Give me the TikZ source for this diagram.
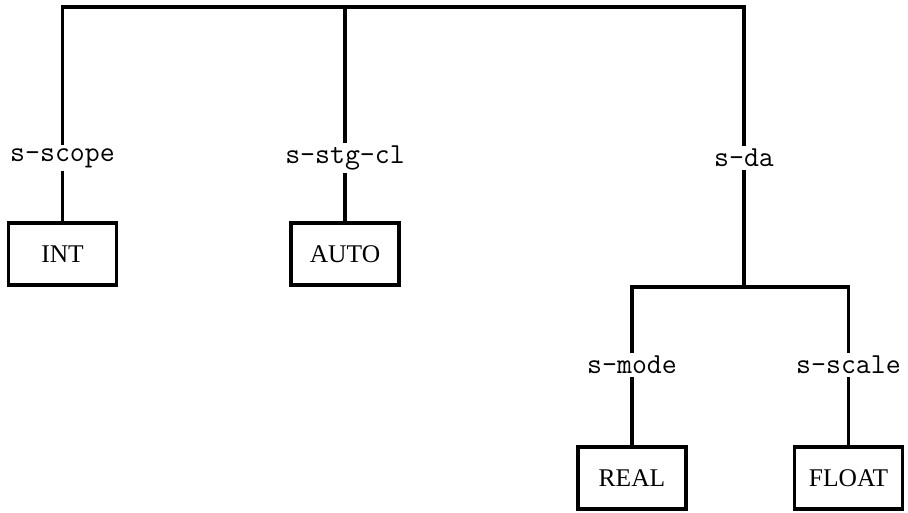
\documentclass[tikz,border=0pt]{standalone}
\usepackage{fontspec}
\newfontfamily\boxfont{Liberation Serif}
\usepackage{tikz}
\usetikzlibrary{positioning}

\tikzset{
  leafbox/.style={draw=black, line width=2pt, minimum width=2.16cm, minimum height=1.24cm, inner sep=0pt, font=\boxfont\fontsize{14.5}{16}\selectfont},
  sellabel/.style={inner sep=1.5pt, font=\fontsize{16.5}{18}\selectfont\ttfamily},
  branch/.style={line width=2pt}
}

\begin{document}
\begin{tikzpicture}
    \useasboundingbox (0,0) rectangle (18.16,10.24);
    % top row of the tree
    \coordinate (tleft) at (1.25,10.1);
    \coordinate (tright) at (14.88,10.1);
    \node[sellabel] (scope) at (1.25,7.08) {s-scope};
    \node[sellabel] (stgcl) at (6.9,7.08) {s-stg-cl};
    \node[sellabel] (da) at (14.88,7.08) {s-da};
    \node[leafbox] (int) at (1.25,5.16) {INT};
    \node[leafbox] (auto) at (6.9,5.16) {AUTO};
    % subtree under s-da
    \coordinate (fork) at (14.88,4.5);
    \coordinate (fleft) at (12.64,4.5);
    \coordinate (fright) at (16.97,4.5);
    \node[sellabel] (mode) at (12.64,2.94) {s-mode};
    \node[sellabel] (scale) at (16.97,2.94) {s-scale};
    \node[leafbox] (real) at (12.64,0.68) {REAL};
    \node[leafbox] (float) at (16.97,0.68) {FLOAT};
    % connectors
    \draw[branch, line join=miter] (scope) -- (tleft) -- (tright) -- (da);
    \draw[branch] (scope) -- (int);
    \draw[branch] (stgcl) -- (stgcl |- tleft);
    \draw[branch] (stgcl) -- (auto);
    \draw[branch] (da) -- (fork);
    \draw[branch, line join=miter] (mode) -- (fleft) -- (fright) -- (scale);
    \draw[branch] (mode) -- (real);
    \draw[branch] (scale) -- (float);
\end{tikzpicture}
\end{document}
